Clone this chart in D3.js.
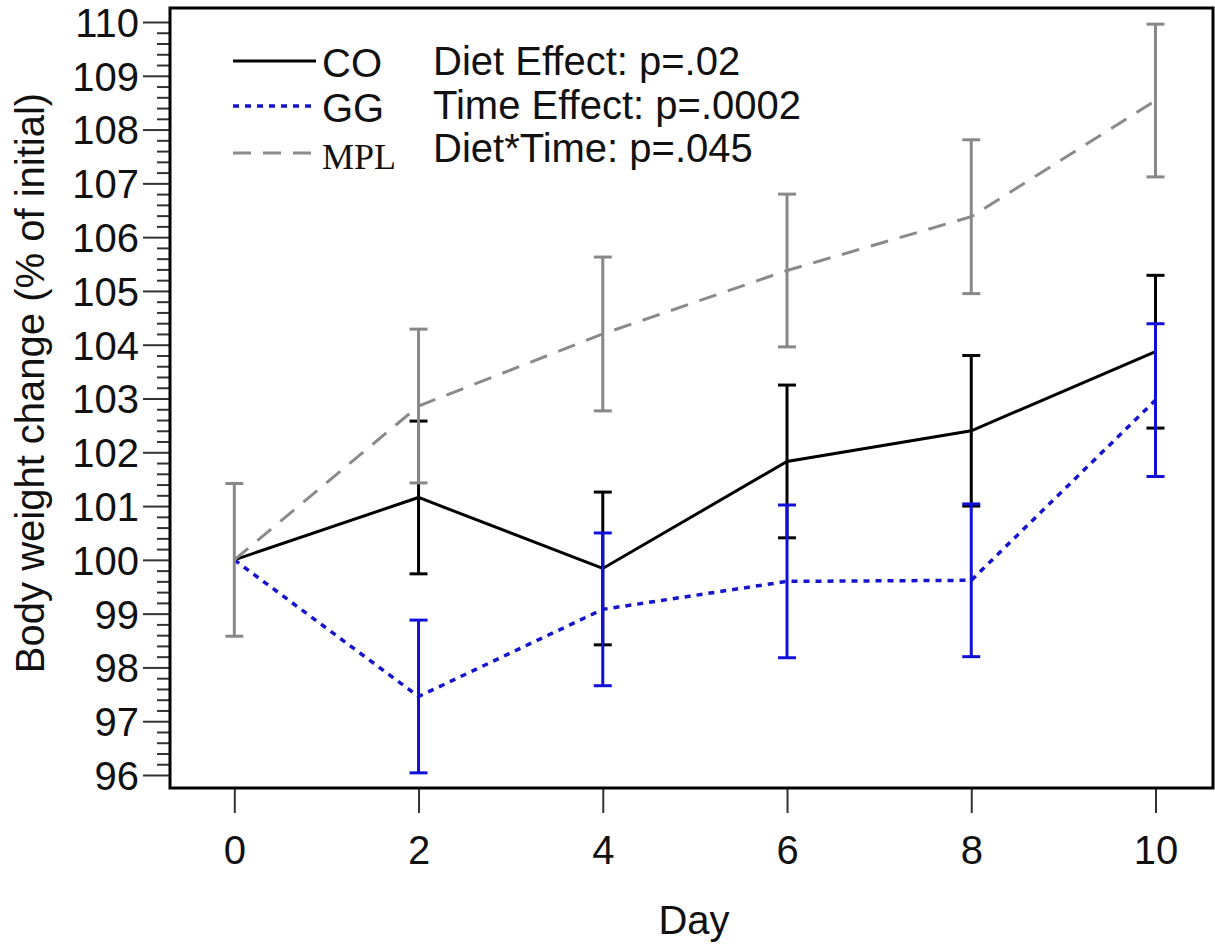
<!DOCTYPE html>
<html>
<head>
<meta charset="utf-8">
<script src="https://cdn.jsdelivr.net/npm/d3@7"></script>
<style>
	body { margin: 0; background: #fff; }
	svg { display: block; font-family: "Liberation Sans", Arial, sans-serif; }
</style>
</head>
<body>
<svg id="chart" width="1215" height="944"></svg>
<script>
"use strict";

/* global d3 */

// Data (mean and SE, % of initial body weight)
var days = [0, 2, 4, 6, 8, 10];
var coMean  = [100, 101.16, 99.84, 101.83, 102.40, 103.87];
var coErr   = [0, 1.42, 1.42, 1.42, 1.40, 1.42];
var ggMean  = [100, 97.46, 99.08, 99.60, 99.62, 102.97];
var ggErr   = [0, 1.42, 1.42, 1.42, 1.42, 1.42];
var mplMean = [100, 102.86, 104.20, 105.38, 106.38, 108.54];
var mplErr  = [1.42, 1.43, 1.43, 1.42, 1.43, 1.42];

var yTicks = d3.range(96, 111, 1);
var xTicks = [0, 2, 4, 6, 8, 10];
var statLines = ["Diet Effect: p=.02", "Time Effect: p=.0002", "Diet*Time: p=.045"];

var series = [
	{ name: "CO",  mean: coMean,  err: coErr,  color: "#000000", barColor: "#000000", dash: null,    width: 3 },
	{ name: "GG",  mean: ggMean,  err: ggErr,  color: "#1414cc", barColor: "#1010d8", dash: "6,6",   width: 3.5 },
	{ name: "MPL", mean: mplMean, err: mplErr, color: "#8a8a8a", barColor: "#888888", dash: "18,12", width: 3 }
];

var svg = d3.select("#chart");
var FONT = 40;

// Plot box
var box = { left: 170, top: 8, right: 1213, bottom: 788 };

var x = d3.scaleLinear().domain([0, 10]).range([234.3, 1155.5]);
var y = d3.scaleLinear().domain([96, 110]).range([775, 22]);

////////////////////////////////////////////////////////////////////////////////
// Axes
////////////////////////////////////////////////////////////////////////////////
var yMinor = d3.range(96, 110.01, 0.2).filter(function(v) { return Math.abs(v - Math.round(v)) > 0.01; });

var gyMinor = svg.append("g").attr("transform", "translate(" + box.left + ",0)").
	call(d3.axisLeft(y).tickValues(yMinor).tickSize(13).tickFormat(""));
gyMinor.select(".domain").remove();
gyMinor.selectAll(".tick line").attr("stroke", "#333").attr("stroke-width", 2);

var gy = svg.append("g").attr("transform", "translate(" + box.left + ",0)").
	call(d3.axisLeft(y).tickValues(yTicks).tickSize(27).tickPadding(4).tickFormat(d3.format("d")));
gy.select(".domain").remove();
gy.selectAll(".tick line").attr("stroke", "#333").attr("stroke-width", 2);
gy.selectAll(".tick text").attr("font-size", FONT).attr("fill", "#111").
	attr("font-family", "Liberation Sans, Arial, sans-serif").attr("dy", "0.36em");

var gx = svg.append("g").attr("transform", "translate(0," + box.bottom + ")").
	call(d3.axisBottom(x).tickValues(xTicks).tickSize(25).tickPadding(23).tickFormat(d3.format("d")));
gx.select(".domain").remove();
gx.selectAll(".tick line").attr("stroke", "#333").attr("stroke-width", 2);
gx.selectAll(".tick text").attr("font-size", FONT).attr("fill", "#111").
	attr("font-family", "Liberation Sans, Arial, sans-serif");

// Frame
svg.append("rect").attr("x", box.left).attr("y", box.top).
	attr("width", box.right - box.left).attr("height", box.bottom - box.top).
	attr("fill", "none").attr("stroke", "#000").attr("stroke-width", 3);

// Axis titles
svg.append("text").attr("transform", "translate(44,383) rotate(-90)").
	attr("text-anchor", "middle").attr("font-size", FONT).attr("fill", "#111").
	text("Body weight change (% of initial)");

svg.append("text").attr("x", 694).attr("y", 934).
	attr("text-anchor", "middle").attr("font-size", FONT).attr("fill", "#111").text("Day");

////////////////////////////////////////////////////////////////////////////////
// Series: lines and error bars
////////////////////////////////////////////////////////////////////////////////
var line = d3.line().x(function(d) { return x(d.day); }).y(function(d) { return y(d.v); });

series.forEach(function(s) {
	var pts = days.map(function(d, i) { return { day: d, v: s.mean[i], e: s.err[i] }; });
	var g = svg.append("g").attr("class", "series-" + s.name);

	g.append("path").datum(pts).attr("d", line).attr("fill", "none").
		attr("stroke", s.color).attr("stroke-width", s.width).
		attr("stroke-dasharray", s.dash);

	var bars = g.selectAll(".eb").data(pts.filter(function(p) { return p.e > 0; })).enter().
		append("g").attr("class", "eb");
	bars.append("line").attr("x1", function(d) { return x(d.day); }).attr("x2", function(d) { return x(d.day); }).
		attr("y1", function(d) { return y(d.v + d.e); }).attr("y2", function(d) { return y(d.v - d.e); }).
		attr("stroke", s.barColor).attr("stroke-width", 3);
	[1, -1].forEach(function(sign) {
		bars.append("line").attr("x1", function(d) { return x(d.day) - 9; }).attr("x2", function(d) { return x(d.day) + 9; }).
			attr("y1", function(d) { return y(d.v + sign * d.e); }).attr("y2", function(d) { return y(d.v + sign * d.e); }).
			attr("stroke", s.barColor).attr("stroke-width", 3);
	});
});

////////////////////////////////////////////////////////////////////////////////
// Legend and statistics text
////////////////////////////////////////////////////////////////////////////////
var legY = [61, 106, 153];
var legend = svg.append("g").attr("class", "legend");
series.forEach(function(s, i) {
	legend.append("line").attr("x1", 233).attr("x2", 316).attr("y1", legY[i]).attr("y2", legY[i]).
		attr("stroke", s.color).attr("stroke-width", s.width).attr("stroke-dasharray", s.dash);
	var t = legend.append("text").attr("x", 322).attr("y", legY[i] + 16).attr("fill", "#111").text(s.name);
	if (s.name === "MPL") {
		t.attr("font-family", "Liberation Serif, Times New Roman, serif").attr("font-size", 36);
	} else {
		t.attr("font-size", FONT);
	}
});

svg.append("g").selectAll("text").data(statLines).enter().append("text").
	attr("x", 433).attr("y", function(d, i) { return 75 + i * 43.5; }).
	attr("font-size", FONT).attr("fill", "#111").text(function(d) { return d; });
</script>
</body>
</html>
